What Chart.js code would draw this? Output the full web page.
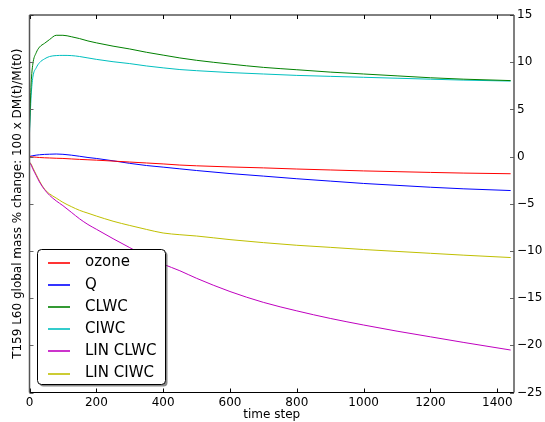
<!DOCTYPE html>
<html>
<head>
<meta charset="utf-8">
<script src="https://cdn.jsdelivr.net/npm/chart.js@4/dist/chart.umd.min.js"></script>
<style>
html,body{margin:0;padding:0;background:#fff;}
#wrap{width:545px;height:422px;position:relative;}
</style>
</head>
<body>
<div id="wrap"><canvas id="c" width="545" height="422"></canvas></div>
<script>
const timeSteps = [0,5,10,20,30,45,60,80,100,125,150,175,200,250,300,350,400,450,500,600,700,800,900,1000,1100,1200,1300,1440];
const ozone   = [0,-0.02,-0.04,-0.07,-0.1,-0.13,-0.15,-0.18,-0.2,-0.25,-0.3,-0.34,-0.38,-0.48,-0.58,-0.68,-0.78,-0.9,-0.98,-1.1,-1.2,-1.32,-1.42,-1.52,-1.6,-1.68,-1.75,-1.82];
const q       = [0,0.06,0.09,0.15,0.19,0.23,0.25,0.27,0.24,0.15,0.03,-0.1,-0.2,-0.45,-0.72,-0.95,-1.12,-1.3,-1.48,-1.8,-2.07,-2.35,-2.6,-2.85,-3.05,-3.25,-3.42,-3.6];
const clwc    = [3,7.8,9.8,11.0,11.6,12.0,12.4,12.85,12.85,12.7,12.5,12.25,12.05,11.7,11.4,11.05,10.75,10.45,10.2,9.8,9.45,9.2,8.95,8.75,8.55,8.35,8.2,8.05];
const ciwc    = [2.5,6.5,8.4,9.4,9.95,10.35,10.6,10.7,10.72,10.7,10.6,10.45,10.3,10.05,9.85,9.6,9.4,9.22,9.1,8.9,8.75,8.6,8.5,8.4,8.3,8.2,8.1,8.0];
const linClwc = [-0.6,-0.9,-1.3,-2.0,-2.7,-3.5,-4.1,-4.7,-5.2,-5.9,-6.6,-7.2,-7.7,-8.7,-9.65,-10.6,-11.4,-12.1,-12.9,-14.3,-15.45,-16.35,-17.15,-17.85,-18.5,-19.1,-19.7,-20.5];
const linCiwc = [-0.6,-0.8,-1.2,-1.9,-2.6,-3.45,-3.95,-4.4,-4.85,-5.3,-5.7,-6.0,-6.3,-6.85,-7.3,-7.72,-8.1,-8.28,-8.42,-8.8,-9.12,-9.4,-9.62,-9.85,-10.05,-10.25,-10.45,-10.7];
const seriesNames = ['ozone','Q','CLWC','CIWC','LIN CLWC','LIN CIWC'];
const seriesData = [ozone,q,clwc,ciwc,linClwc,linCiwc];
const seriesColors = ['#ff0000','#0000ff','#008000','#00bfbf','#bf00bf','#bfbf00'];
const xTicks = [0,200,400,600,800,1000,1200,1400];
const yTicks = [-25,-20,-15,-10,-5,0,5,10,15];

const FONT = "'DejaVu Sans', sans-serif";

const datasets = seriesNames.map((name,i)=>({
  label: name,
  data: timeSteps.map((t,j)=>({x:t,y:seriesData[i][j]})),
  borderColor: seriesColors[i],
  backgroundColor: seriesColors[i],
  borderWidth: 1,
  pointRadius: 0,
  cubicInterpolationMode: 'monotone',
  fill: false,
  yAxisID: 'y'
}));

const framePlugin = {
  id: 'frame',
  afterDatasetsDraw(chart) {
    const ctx = chart.ctx, a = chart.chartArea;
    const xs = chart.scales.x, ys = chart.scales.y;
    ctx.save();
    ctx.lineWidth = 1;
    ctx.strokeStyle = '#000';
    xTicks.forEach(v=>{
      const px = Math.round(xs.getPixelForValue(v))+0.5;
      ctx.beginPath();
      ctx.moveTo(px,a.bottom); ctx.lineTo(px,a.bottom-4);
      ctx.moveTo(px,a.top); ctx.lineTo(px,a.top+4);
      ctx.stroke();
    });
    ctx.strokeStyle = '#666';
    yTicks.forEach(v=>{
      const py = Math.round(ys.getPixelForValue(v))+0.5;
      ctx.beginPath();
      ctx.moveTo(a.left,py); ctx.lineTo(a.left+4,py);
      ctx.moveTo(a.right,py); ctx.lineTo(a.right-4,py);
      ctx.stroke();
    });
    ctx.strokeStyle = '#000';
    ctx.beginPath();
    ctx.moveTo(a.left,a.top); ctx.lineTo(a.right,a.top);
    ctx.moveTo(a.left,a.bottom); ctx.lineTo(a.right,a.bottom);
    ctx.stroke();
    ctx.strokeStyle = '#555';
    ctx.lineWidth = 1.5;
    ctx.beginPath();
    ctx.moveTo(a.left,a.top); ctx.lineTo(a.left,a.bottom);
    ctx.moveTo(a.right,a.top); ctx.lineTo(a.right,a.bottom);
    ctx.stroke();

    // legend
    const bx = 37.5, by = 249.5, bw = 128, bh = 135, r = 4;
    const rr = (x,y,w,h)=>{
      ctx.beginPath();
      ctx.moveTo(x+r,y); ctx.lineTo(x+w-r,y); ctx.quadraticCurveTo(x+w,y,x+w,y+r);
      ctx.lineTo(x+w,y+h-r); ctx.quadraticCurveTo(x+w,y+h,x+w-r,y+h);
      ctx.lineTo(x+r,y+h); ctx.quadraticCurveTo(x,y+h,x,y+h-r);
      ctx.lineTo(x,y+r); ctx.quadraticCurveTo(x,y,x+r,y); ctx.closePath();
    };
    ctx.fillStyle = 'rgba(60,60,60,0.6)';
    rr(bx+2,by+2,bw,bh); ctx.fill();
    ctx.fillStyle = '#fff';
    rr(bx,by,bw,bh); ctx.fill();
    ctx.strokeStyle = '#000'; ctx.lineWidth = 1;
    rr(bx,by,bw,bh); ctx.stroke();
    ctx.font = '15px ' + FONT;
    ctx.textBaseline = 'middle';
    ctx.textAlign = 'left';
    seriesNames.forEach((name,i)=>{
      const cy = 262.5 + i*22.2;
      ctx.strokeStyle = seriesColors[i];
      ctx.lineWidth = 1.6;
      ctx.beginPath(); ctx.moveTo(48,Math.round(cy)); ctx.lineTo(70,Math.round(cy)); ctx.stroke();
      ctx.fillStyle = '#000';
      ctx.fillText(name, 85, cy);
    });
    ctx.restore();
  }
};

new Chart(document.getElementById('c'), {
  type: 'line',
  data: { datasets },
  options: {
    responsive: false,
    animation: false,
    layout: { padding: { top: 15, left: 0, right: 0, bottom: 0 } },
    plugins: { legend: { display: false }, tooltip: { enabled: false } },
    scales: {
      x: {
        type: 'linear', position: 'bottom', min: 0, max: 1450,
        afterBuildTicks: s => { s.ticks = xTicks.map(v=>({value:v})); },
        afterFit: s => { s.height = 29.5; },
        grid: { display: false, drawTicks: false },
        border: { display: false },
        ticks: { color: '#000', font: { family: FONT, size: 12 }, padding: 3, maxRotation: 0, autoSkip: false,
          callback: v => String(v) },
        title: { display: true, text: 'time step', color: '#000', font: { family: FONT, size: 12 }, padding: { top: 0, bottom: 0 } }
      },
      y: {
        type: 'linear', position: 'right', min: -25, max: 15,
        afterBuildTicks: s => { s.ticks = yTicks.map(v=>({value:v})); },
        afterFit: s => { s.width = 31; },
        grid: { display: false, drawTicks: false },
        border: { display: false },
        ticks: { color: '#000', font: { family: FONT, size: 12 }, padding: 3,
          callback: v => String(v).replace('-', '\u2212') }
      },
      yl: {
        type: 'linear', position: 'left', min: -25, max: 15,
        afterFit: s => { s.width = 29.5; },
        grid: { display: false, drawTicks: false },
        border: { display: false },
        ticks: { display: false },
        title: { display: true, text: 'T159 L60 global mass % change: 100 x DM(t)/M(t0)', color: '#000', font: { family: FONT, size: 12 }, padding: { top: 11, bottom: 0 } }
      }
    }
  },
  plugins: [framePlugin]
});
</script>
</body>
</html>
